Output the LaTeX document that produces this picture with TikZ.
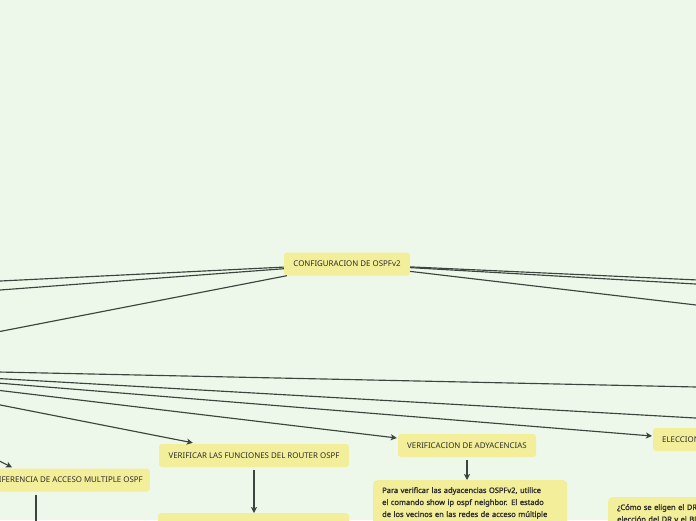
\documentclass[tikz,border=0pt]{standalone}
\usepackage{fontspec}
\setmainfont{Noto Sans}
\newfontfamily\notefont{Noto Sans}[FakeBold=1.6]
\usetikzlibrary{arrows.meta,calc}
\definecolor{bg}{HTML}{EEF8EA}
\definecolor{nodefill}{HTML}{F2EE99}
\definecolor{linec}{HTML}{3A463D}
\definecolor{txt}{HTML}{2E2E2E}
\begin{document}
\begin{tikzpicture}[x=1pt,y=-1pt,
  topic/.style={fill=nodefill, rounded corners=3pt, text=txt, font=\fontsize{7.9}{9}\selectfont, inner xsep=0pt, inner ysep=0pt, minimum height=23pt},
  note/.style={fill=nodefill, rounded corners=4pt, text=txt, font=\notefont\fontsize{7.5}{12}\selectfont, align=left, inner xsep=9pt, inner ysep=7pt, anchor=north west},
  conn/.style={draw=linec, line width=1.15pt},
  arr/.style={conn, -{Stealth[length=6pt,width=6pt,inset=1.5pt]}}]
\fill[bg] (0,0) rectangle (696,520);
\useasboundingbox (0,0) rectangle (696,520);

% nodes
\node[topic, minimum width=126pt] (cfg) at (347,264) {CONFIGURACION DE OSPFv2};
\node[topic, minimum width=190pt] (fun) at (254,455.5) {VERIFICAR LAS FUNCIONES DEL ROUTER OSPF};
\node[topic, minimum width=191pt, minimum height=60pt, anchor=north] (funsub) at (253.5,513) {};
\node[topic, inner xsep=7pt, anchor=east] (dif) at (150,480) {DIFERENCIA DE ACCESO MULTIPLE OSPF};
\node[topic, minimum width=138pt] (adj) at (467,445.5) {VERIFICACION DE ADYACENCIAS};
\node[note, text width=176pt] (adjnote) at (373,480) {\hyphenpenalty=10000 \exhyphenpenalty=10000 Para verificar las adyacencias OSPFv2, utilice el comando show ip ospf neighbor. El estado de los vecinos en las redes de acceso múltiple puede ser:};
\node[topic, inner xsep=9pt, anchor=west] (ele) at (653,439.5) {ELECCION DEL DR Y BDR};
\node[note, text width=176pt] (elenote) at (608,497) {¿Cómo se eligen el DR y el BDR? La\\ elección del DR y el BDR se realiza\\ según:};

% off-screen ends
\coordinate (l1) at (-20,282);
\coordinate (l2) at (-20,291.5);
\coordinate (hub) at (-188,368);
\coordinate (r1) at (720,281);
\coordinate (r2) at (720,285.4);
\coordinate (r3) at (720,307.8);
\coordinate (ra) at (720,387.5);
\coordinate (rb) at (720,419.4);
\coordinate (difdown) at (36,545);

% connectors from central topic
\draw[conn] (cfg) -- (l1);
\draw[conn] (cfg) -- (l2);
\draw[conn] (cfg) -- (hub);
\draw[conn] (cfg) -- (r1);
\draw[conn] (cfg) -- (r2);
\draw[conn] (cfg) -- (r3);

% connectors from hub
\draw[conn] (hub) -- (ra);
\draw[conn] (hub) -- (rb);
\draw[arr] (hub) -- ($(ele.west)+(-1,-3.5)$);
\draw[arr] (hub) -- ($(adj.west)+(-1,-7.5)$);
\draw[arr] (hub) -- ($(fun.north west)+(34,-1)$);
\draw[arr] (hub) -- ($(dif.north east)+(-138,-1)$);

% vertical connectors
\draw[arr, shorten <=3pt] (fun.south) -- (fun.south |- funsub.north);
\draw[arr, shorten <=3pt] (adj.south) -- (adj.south |- adjnote.north);
\draw[conn, shorten <=3pt] (dif.south -| difdown) -- (difdown);
\end{tikzpicture}
\end{document}
